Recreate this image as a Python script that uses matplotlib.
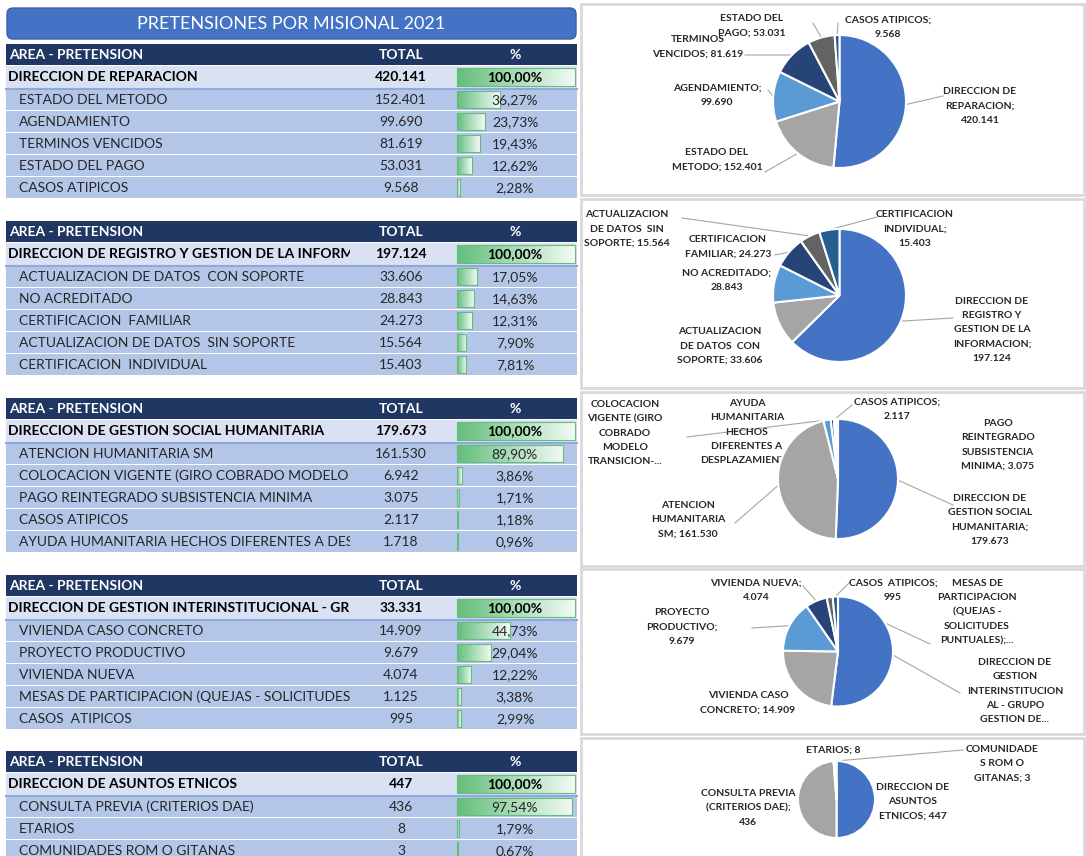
import matplotlib.pyplot as plt
import numpy as np
from matplotlib.patches import Rectangle, FancyBboxPatch
from matplotlib.colors import LinearSegmentedColormap
from matplotlib.transforms import Bbox, TransformedBbox

plt.rcParams['font.family'] = ['Lato', 'DejaVu Sans']

W, H = 1086, 856

# ---- datos ----
areas = ["DIRECCION DE REPARACION",
         "DIRECCION DE REGISTRO Y GESTION DE LA INFORMACION",
         "DIRECCION DE GESTION SOCIAL HUMANITARIA",
         "DIRECCION DE GESTION INTERINSTITUCIONAL - GRUPO GESTION DE OFERTA",
         "DIRECCION DE ASUNTOS ETNICOS"]
area_totals = [420141, 197124, 179673, 33331, 447]

reparacion = ["ESTADO DEL METODO", "AGENDAMIENTO", "TERMINOS VENCIDOS",
              "ESTADO DEL PAGO", "CASOS ATIPICOS"]
reparacion_vals = [152401, 99690, 81619, 53031, 9568]

registro = ["ACTUALIZACION DE DATOS  CON SOPORTE", "NO ACREDITADO",
            "CERTIFICACION  FAMILIAR", "ACTUALIZACION DE DATOS  SIN SOPORTE",
            "CERTIFICACION  INDIVIDUAL"]
registro_vals = [33606, 28843, 24273, 15564, 15403]

social = ["ATENCION HUMANITARIA SM",
          "COLOCACION VIGENTE (GIRO COBRADO MODELO TRANSICION-",
          "PAGO REINTEGRADO SUBSISTENCIA MINIMA", "CASOS ATIPICOS",
          "AYUDA HUMANITARIA HECHOS DIFERENTES A DESPLAZAMIENTO"]
social_vals = [161530, 6942, 3075, 2117, 1718]

interinst = ["VIVIENDA CASO CONCRETO", "PROYECTO PRODUCTIVO", "VIVIENDA NUEVA",
             "MESAS DE PARTICIPACION (QUEJAS - SOLICITUDES PUNTUALES)",
             "CASOS  ATIPICOS"]
interinst_vals = [14909, 9679, 4074, 1125, 995]

etnicos = ["CONSULTA PREVIA (CRITERIOS DAE)", "ETARIOS", "COMUNIDADES ROM O GITANAS"]
etnicos_vals = [436, 8, 3]

items = [reparacion, registro, social, interinst, etnicos]
item_vals = [reparacion_vals, registro_vals, social_vals, interinst_vals, etnicos_vals]

# etiquetas de las tortas (como las corta Excel)
pie_labels = [
    ["DIRECCION DE\nREPARACION;\n{}", "ESTADO DEL\nMETODO; {}", "AGENDAMIENTO;\n{}",
     "TERMINOS\nVENCIDOS; {}", "ESTADO DEL\nPAGO; {}", "CASOS ATIPICOS;\n{}"],
    ["DIRECCION DE\nREGISTRO Y\nGESTION DE LA\nINFORMACION;\n{}",
     "ACTUALIZACION\nDE DATOS  CON\nSOPORTE; {}", "NO ACREDITADO;\n{}",
     "CERTIFICACION\nFAMILIAR; {}", "ACTUALIZACION\nDE DATOS  SIN\nSOPORTE; {}",
     "CERTIFICACION\nINDIVIDUAL;\n{}"],
    ["DIRECCION DE\nGESTION SOCIAL\nHUMANITARIA;\n{}", "ATENCION\nHUMANITARIA\nSM; {}",
     "COLOCACION\nVIGENTE (GIRO\nCOBRADO\nMODELO\nTRANSICION-...",
     "PAGO\nREINTEGRADO\nSUBSISTENCIA\nMINIMA; {}", "CASOS ATIPICOS;\n{}",
     "AYUDA\nHUMANITARIA\nHECHOS\nDIFERENTES A\nDESPLAZAMIENT..."],
    ["DIRECCION DE\nGESTION\nINTERINSTITUCION\nAL - GRUPO\nGESTION DE...",
     "VIVIENDA CASO\nCONCRETO; {}", "PROYECTO\nPRODUCTIVO;\n{}", "VIVIENDA NUEVA;\n{}",
     "MESAS DE\nPARTICIPACION\n(QUEJAS -\nSOLICITUDES\nPUNTUALES);...",
     "CASOS  ATIPICOS;\n{}"],
    ["DIRECCION DE\nASUNTOS\nETNICOS; {}", "CONSULTA PREVIA\n(CRITERIOS DAE);\n{}",
     "ETARIOS; {}", "COMUNIDADE\nS ROM O\nGITANAS; {}"],
]

# ---- layout (pixeles) ----
table_tops = [44, 221, 398, 575, 751]
pie_geom = [(839.5, 101.5, 66.5), (839.5, 295.5, 66.5), (838, 479, 60),
            (838, 651.5, 55), (836.5, 799.5, 38.5)]
panels = [(581, 4, 503, 191), (581, 199, 503, 189), (581, 392, 503, 174),
          (581, 569, 503, 165), (581, 738, 503, 130)]
# (x, y) del texto y punto final de la linea guia (o None)
label_pos = [
    [((980, 106), (943, 96)), ((717, 160), (765, 172)), ((717, 95), (768, 90)),
     ((698, 47), (745, 55)), ((752, 26), (813, 23)), ((888, 27), (838, 23))],
    [((992, 330), (953, 318)), ((720, 346), None), ((727, 280), None),
     ((728, 247), (775, 255)), ((627, 229), (682, 218)), ((915, 229), (877, 217))],
    [((990, 520), (953, 505)), ((688, 520), (735, 523)), ((625, 433), (687, 437)),
     ((998, 445), None), ((897, 409), (852, 405)), ((747, 432), None)],
    [((1015, 691), (960, 693)), ((748, 703), None), ((682, 627), (752, 628)),
     ((756, 590), (803, 586)), ((977, 612), (930, 644)), ((893, 590), (850, 582))],
    [((913, 802), None), ((748, 808), None), ((833, 750), None),
     ((1002, 764), (963, 750))],
]

pie_colors = ['#4472C4', '#A5A5A5', '#5B9BD5', '#264478', '#636363', '#255E91']


def fmt_int(v):
    return f"{v:,}".replace(",", ".")


def fmt_pct(p):
    return f"{p:.2f}%".replace(".", ",")


fig = plt.figure(figsize=(W / 100, H / 100), dpi=100)
ax = fig.add_axes([0, 0, 1, 1])
ax.set_xlim(0, W)
ax.set_ylim(H, 0)
ax.axis('off')
renderer = fig.canvas.get_renderer()

# titulo
ax.add_patch(FancyBboxPatch((7, 8), 569, 31, boxstyle="round,pad=0,rounding_size=6",
                            fc='#4472C4', ec='#3A62AC', lw=1))
ax.text(291, 24, "PRETENSIONES POR MISIONAL 2021", color='white', fontsize=13,
        ha='center', va='center')

X0, X1 = 6, 577
NAME_EDGE = 350
BAR_X, BAR_W = 457, 118
bar_cmap = LinearSegmentedColormap.from_list('bar', ['#63BE7B', '#F3FAF5'])
grad = np.linspace(0, 1, 256).reshape(1, -1)
name_clip = TransformedBbox(Bbox.from_extents(0, 0, NAME_EDGE / W, 1), fig.transFigure)


def name_text(x, y, s, **kw):
    # los nombres largos se cortan en el borde de la columna
    t = ax.text(x, y, s, **kw)
    t.set_clip_on(True)
    t.set_clip_box(name_clip)
    t.set_clip_path(None)
    s_cut = s
    while t.get_window_extent(renderer).x1 > NAME_EDGE + 7 and len(s_cut) > 1:
        s_cut = s_cut[:-1]
        t.set_text(s_cut)
    return t


def data_bar(frac, ytop, h):
    w = BAR_W * frac
    ax.imshow(grad, cmap=bar_cmap, extent=[BAR_X, BAR_X + w, ytop + h, ytop],
              aspect='auto', interpolation='bilinear', zorder=2)
    ax.add_patch(Rectangle((BAR_X, ytop), w, h, fc='none', ec='#63BE7B', lw=0.8, zorder=3))


for t in range(len(areas)):
    y = table_tops[t]
    total = area_totals[t]
    # encabezado
    ax.add_patch(Rectangle((X0, y), X1 - X0, 21, fc='#203764', ec='none'))
    hkw = dict(color='white', fontsize=10, fontweight='bold', va='center')
    ax.text(9, y + 11, "AREA - PRETENSION", **hkw)
    ax.text(401, y + 11, "TOTAL", ha='center', **hkw)
    ax.text(515, y + 11, "%", ha='center', **hkw)

    # fila del area
    ax.add_patch(Rectangle((X0, y + 22), X1 - X0, 22, fc='#D9E1F2', ec='none'))
    ax.plot([X0, X1], [y + 44.5, y + 44.5], color='#8EA9DB', lw=1.5)
    bkw = dict(color='black', fontsize=10, fontweight='bold', va='center', zorder=4)
    name_text(8, y + 33, areas[t], **bkw)
    ax.text(401, y + 33, fmt_int(total), ha='center', **bkw)
    data_bar(1.0, y + 24, 18)
    ax.text(515, y + 33, fmt_pct(100.0), ha='center', **bkw)

    # filas de pretensiones
    for k, (name, val) in enumerate(zip(items[t], item_vals[t])):
        yr = y + 45 + 22 * k
        ax.add_patch(Rectangle((X0, yr), X1 - X0, 21, fc='#B4C6E7', ec='none'))
        rkw = dict(color='#262626', fontsize=10, va='center', zorder=4)
        name_text(19, yr + 11, name, **rkw)
        ax.text(401, yr + 11, fmt_int(val), ha='center', **rkw)
        data_bar(val / total, yr + 2, 17)
        ax.text(515, yr + 11, fmt_pct(val / total * 100), ha='center', **rkw)

# paneles de las tortas
for (px, py, pw, ph) in panels:
    ax.add_patch(Rectangle((px, py), pw, ph, fc='white', ec='#D9D9D9', lw=2, zorder=0))

for t in range(len(areas)):
    cx, cy, r = pie_geom[t]
    values = [area_totals[t]] + item_vals[t]
    pax = fig.add_axes([(cx - r) / W, 1 - (cy + r) / H, 2 * r / W, 2 * r / H])
    wedges, _ = pax.pie(values, colors=pie_colors[:len(values)], startangle=90,
                        counterclock=False,
                        wedgeprops=dict(edgecolor='white', linewidth=1.5))
    pax.set_xlim(-1, 1)
    pax.set_ylim(-1, 1)

    for w, fmt, val, ((lx, ly), end) in zip(wedges, pie_labels[t], values, label_pos[t]):
        if end is not None:
            th = np.deg2rad((w.theta1 + w.theta2) / 2)
            ex, ey = cx + r * np.cos(th), cy - r * np.sin(th)
            ax.plot([end[0], ex], [end[1], ey], color='#A6A6A6', lw=0.8, zorder=1)
        ax.text(lx, ly, fmt.format(fmt_int(val)), ha='center', va='center',
                multialignment='center', fontsize=7.5, fontweight='bold',
                color='#262626', linespacing=1.75, zorder=5)

ax.set_xlim(0, W)
ax.set_ylim(H, 0)
fig.savefig('out.png', dpi=100)
